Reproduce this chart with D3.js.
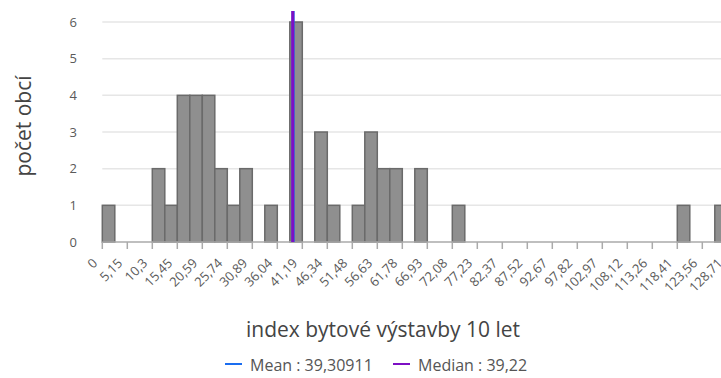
<!DOCTYPE html>
<html>
<head>
<meta charset="utf-8">
<script src="https://cdn.jsdelivr.net/npm/d3@7"></script>
<style>
  body { margin: 0; overflow: hidden; background: #fff; }
  svg { display: block; font-family: "Open Sans", "Noto Sans", sans-serif; }
</style>
</head>
<body>
<svg id="chart" width="760" height="378"></svg>
<script>
// histogram data: bin width, counts per bin (from 0)
const binWidth = 2.5746;
const counts = [1,0,0,0,2,1,4,4,4,2,1,2,0,1,0,6,0,3,1,0,1,3,2,2,0,2,0,0,1,0,
                0,0,0,0,0,0,0,0,0,0,0,0,0,0,0,0,1,0,0,1];
const tickLabels = ["0","5,15","10,3","15,45","20,59","25,74","30,89","36,04","41,19",
  "46,34","51,48","56,63","61,78","66,93","72,08","77,23","82,37","87,52","92,67",
  "97,82","102,97","108,12","113,26","118,41","123,56","128,71"];
const yTicks = [0,1,2,3,4,5,6];
const meanVal = 39.30911;
const medianVal = 39.22;

const svg = d3.select("#chart");
const plotLeft = 102.3, plotBottom = 242, plotTop = 11;

// x scale: each tick label = 2 bins, 25px apart
const x = d3.scaleLinear()
  .domain([0, binWidth * 2 * (tickLabels.length - 1)])
  .range([plotLeft, plotLeft + 25 * (tickLabels.length - 1)]);
const y = d3.scaleLinear().domain([0, 6]).range([plotBottom, 22]);

// gridlines
svg.append("g").selectAll("line")
  .data(yTicks.filter(d => d > 0))
  .enter().append("line")
  .attr("x1", plotLeft).attr("x2", 760)
  .attr("y1", d => y(d)).attr("y2", d => y(d))
  .attr("stroke", "#e6e6e6").attr("stroke-width", 1.5);

// y labels
svg.append("g").selectAll("text")
  .data(yTicks)
  .enter().append("text")
  .attr("x", 77).attr("y", d => y(d) + 4.5)
  .attr("text-anchor", "end")
  .attr("fill", "#5a5a5a").style("font-size", "13px")
  .text(d => d);

// bars
svg.append("g").selectAll("rect")
  .data(counts.map((c, i) => ({i: i, c: c})).filter(d => d.c > 0))
  .enter().append("rect")
  .attr("x", d => x(d.i * binWidth))
  .attr("width", d => x((d.i + 1) * binWidth) - x(d.i * binWidth))
  .attr("y", d => y(d.c))
  .attr("height", d => plotBottom - y(d.c))
  .attr("fill", "#8f8f8f")
  .attr("stroke", "#6a6a6a").attr("stroke-width", 1.5);

// x axis
svg.append("line")
  .attr("x1", plotLeft).attr("x2", 760)
  .attr("y1", plotBottom).attr("y2", plotBottom)
  .attr("stroke", "#aaa").attr("stroke-width", 1.5);

const ticks = svg.append("g").selectAll("g")
  .data(tickLabels)
  .enter().append("g")
  .attr("transform", (d, i) => "translate(" + x(i * binWidth * 2) + "," + plotBottom + ")");
ticks.append("line")
  .attr("y1", 0).attr("y2", 7)
  .attr("stroke", "#aaa").attr("stroke-width", 1.5);
ticks.append("text")
  .attr("transform", "translate(-4,22) rotate(-45)")
  .attr("text-anchor", "end")
  .attr("fill", "#5a5a5a").style("font-size", "13px")
  .text(d => d);

// mean and median lines
svg.append("line")
  .attr("x1", x(meanVal)).attr("x2", x(meanVal))
  .attr("y1", plotBottom).attr("y2", plotTop)
  .attr("stroke", "#1a6df0").attr("stroke-width", 3);
svg.append("line")
  .attr("x1", x(medianVal)).attr("x2", x(medianVal))
  .attr("y1", plotBottom).attr("y2", plotTop)
  .attr("stroke", "#7d0fc4").attr("stroke-width", 3);

// axis titles
svg.append("text")
  .attr("transform", "translate(31,126) rotate(-90)")
  .attr("text-anchor", "middle")
  .attr("fill", "#444").style("font-size", "21px")
  .text("počet obcí");
svg.append("text")
  .attr("x", 383).attr("y", 337)
  .attr("text-anchor", "middle")
  .attr("fill", "#444").style("font-size", "21px")
  .text("index bytové výstavby 10 let");

// legend
const legend = [
  {label: "Mean : 39,30911", color: "#1a6df0", x: 225},
  {label: "Median : 39,22", color: "#7d0fc4", x: 393}
];
const lg = svg.append("g").selectAll("g")
  .data(legend)
  .enter().append("g")
  .attr("transform", d => "translate(" + d.x + ",364)");
lg.append("line")
  .attr("x1", 0).attr("x2", 17)
  .attr("stroke", d => d.color).attr("stroke-width", 2);
lg.append("text")
  .attr("x", 25).attr("y", 7)
  .attr("fill", "#555").style("font-size", "16px")
  .text(d => d.label);
</script>
</body>
</html>
